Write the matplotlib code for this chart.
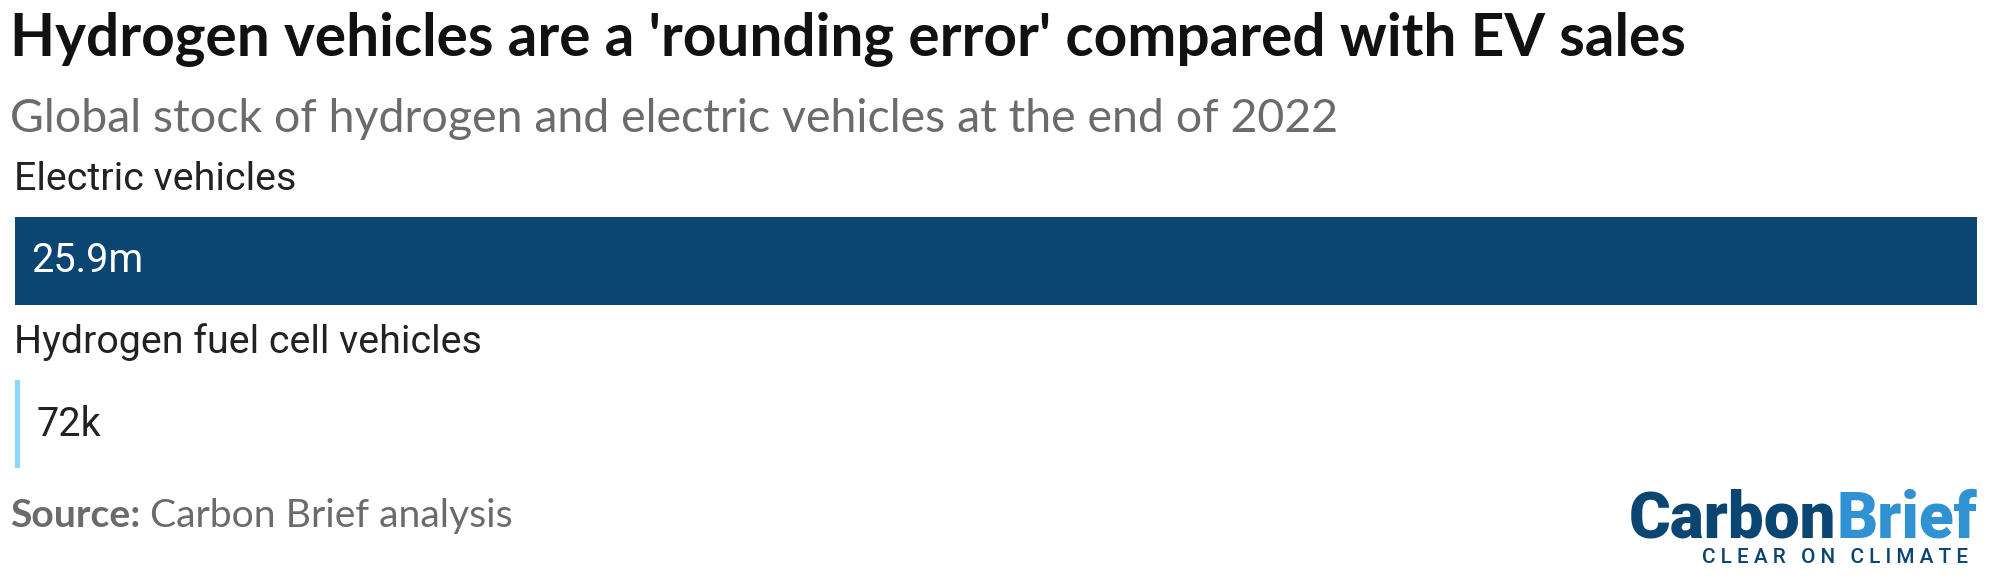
import matplotlib
matplotlib.use('Agg')
import matplotlib.pyplot as plt

categories = ["Electric vehicles", "Hydrogen fuel cell vehicles"]
values_m = [25.9, 0.072]
value_labels = ["25.9m", "72k"]
bar_colors = ["#0b4572", "#8ad8fb"]

title = "Hydrogen vehicles are a 'rounding error' compared with EV sales"
subtitle = "Global stock of hydrogen and electric vehicles at the end of 2022"
source_bold = "Source:"
source_text = " Carbon Brief analysis"
logo_a, logo_b = "Carbon", "Brief"
tagline = "C L E A R   O N   C L I M A T E"

W, H, DPI = 2000, 584, 100
fig = plt.figure(figsize=(W / DPI, H / DPI), dpi=DPI)
fig.patch.set_facecolor('white')
renderer = fig.canvas.get_renderer()


def fx(px):
    return px / W


def fy(py):
    return 1 - py / H


def fit_width(texts, target_px):
    for _ in range(4):
        total = sum(t.get_window_extent(renderer).width for t in texts)
        for t in texts:
            t.set_fontsize(t.get_fontsize() * target_px / total)


def chain(first, second):
    bb = first.get_window_extent(renderer)
    second.set_x(bb.x1 / W)


# Title & subtitle
t_title = fig.text(fx(10), fy(56), title, fontsize=40, fontweight='bold',
                   family='Lato', color='#111111', va='baseline', ha='left')
fit_width([t_title], 1678)
t_sub = fig.text(fx(10), fy(132), subtitle, fontsize=28, family='Lato',
                 color='#6b6b6b', va='baseline', ha='left')
fit_width([t_sub], 1329)

# Bars
ax = fig.add_axes([fx(15), fy(468), fx(1977 - 15), (468 - 217) / H])
ypos = list(range(len(categories)))
bar_h = 88 / 163
ax.barh(ypos, values_m, height=bar_h, color=bar_colors)
ax.set_xlim(0, max(values_m))
ax.set_ylim(len(categories) - 1 + bar_h / 2, -bar_h / 2)
ax.axis('off')

pad_pt = 16 * 72 / DPI
for yi, cat, v, lab in zip(ypos, categories, values_m, value_labels):
    ax.annotate(cat, xy=(0, yi - 0.5), xytext=(-1 * 72 / DPI, 0),
                textcoords='offset points', va='center', ha='left',
                fontsize=28.4, family='Roboto', color='#222222',
                annotation_clip=False)
    if v > 0.2 * max(values_m):
        ax.annotate(lab, xy=(0, yi), xytext=(pad_pt, 0),
                    textcoords='offset points', va='center', ha='left',
                    fontsize=28.5, family='Roboto', color='white')
    else:
        ax.annotate(lab, xy=(v, yi), xytext=(pad_pt, 0),
                    textcoords='offset points', va='center', ha='left',
                    fontsize=28.5, family='Roboto', color='#222222')

# Source
s1 = fig.text(fx(10), fy(527), source_bold, fontsize=26, fontweight='bold',
              family='Lato', color='#6b6b6b', va='baseline', ha='left')
s2 = fig.text(fx(10), fy(527), source_text, fontsize=26, family='Lato',
              color='#6b6b6b', va='baseline', ha='left')
chain(s1, s2)
fit_width([s1, s2], 504)
chain(s1, s2)

# Logo
l1 = fig.text(fx(1629), fy(537), logo_a, fontsize=50, fontweight='heavy',
              family='Roboto', color='#0b4572', va='baseline', ha='left')
l2 = fig.text(fx(1629), fy(537), logo_b, fontsize=50, fontweight='heavy',
              family='Roboto', color='#3192d3', va='baseline', ha='left')
chain(l1, l2)
fit_width([l1, l2], 348)
chain(l1, l2)
tg = fig.text(fx(1702), fy(563), tagline, fontsize=10, fontweight='medium',
              family='Roboto', color='#0b4572', va='baseline', ha='left')
fit_width([tg], 268)

fig.savefig('out.png', dpi=DPI, facecolor='white')
